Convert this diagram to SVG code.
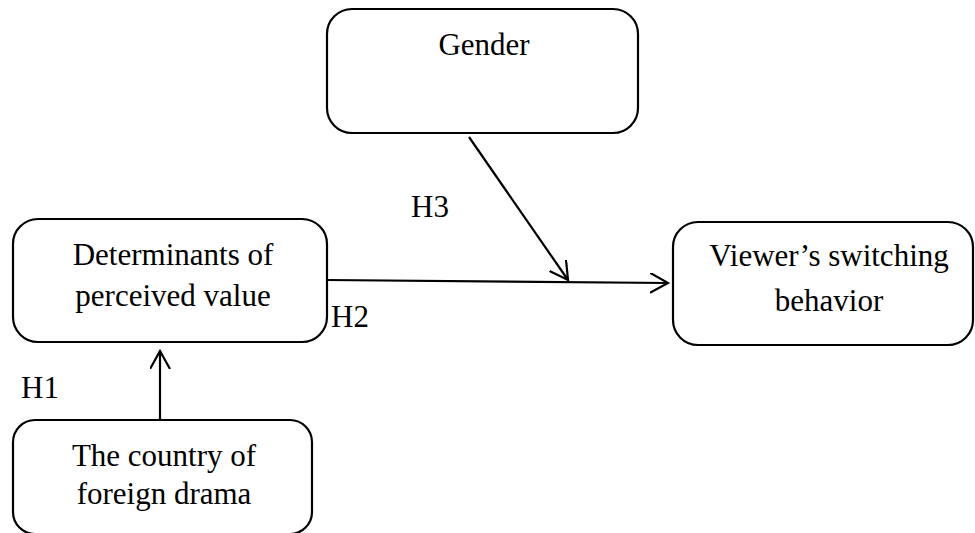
<svg xmlns="http://www.w3.org/2000/svg" width="975" height="533" viewBox="0 0 975 533">
<style>
.box{fill:#fff;stroke:#000;stroke-width:2.2}
.t{font-family:"Liberation Serif","Times New Roman",serif;font-size:31px;fill:#000;text-anchor:middle}
.l{font-family:"Liberation Serif","Times New Roman",serif;font-size:31px;fill:#000}
.c{stroke:#000;stroke-width:2.2;fill:none}
</style>
<defs>
<marker id="ah" markerUnits="userSpaceOnUse" markerWidth="24" markerHeight="24" refX="18" refY="10" orient="auto" viewBox="0 0 24 24">
<path d="M0,0 L18,10 L0,20" fill="none" stroke="#000" stroke-width="2.2"/>
</marker>
</defs>
<rect width="975" height="533" fill="#fff"/>
<g id="connectors">
<line class="c" x1="327" y1="280" x2="668" y2="283" marker-end="url(#ah)"/>
<line class="c" x1="469" y1="137" x2="568" y2="280" marker-end="url(#ah)"/>
<line class="c" x1="160" y1="420" x2="160" y2="351" marker-end="url(#ah)"/>
</g>
<g id="gender">
<rect class="box" x="327" y="9" width="311" height="124" rx="25"/>
<text class="t" x="484" y="55">Gender</text>
</g>
<g id="determinants">
<rect class="box" x="13" y="219" width="314" height="123" rx="25"/>
<text class="t" x="173" y="265">Determinants of</text>
<text class="t" x="173" y="306">perceived value</text>
</g>
<g id="viewer">
<rect class="box" x="673" y="222" width="300" height="123" rx="25"/>
<text class="t" x="829" y="266">Viewer’s switching</text>
<text class="t" x="829" y="311">behavior</text>
</g>
<g id="country">
<rect class="box" x="13" y="420" width="299" height="114" rx="22"/>
<text class="t" x="164" y="466">The country of</text>
<text class="t" x="164" y="504">foreign drama</text>
</g>
<g id="labels">
<text class="l" x="411" y="217">H3</text>
<text class="l" x="331" y="327">H2</text>
<text class="l" x="21" y="398">H1</text>
</g>
</svg>
